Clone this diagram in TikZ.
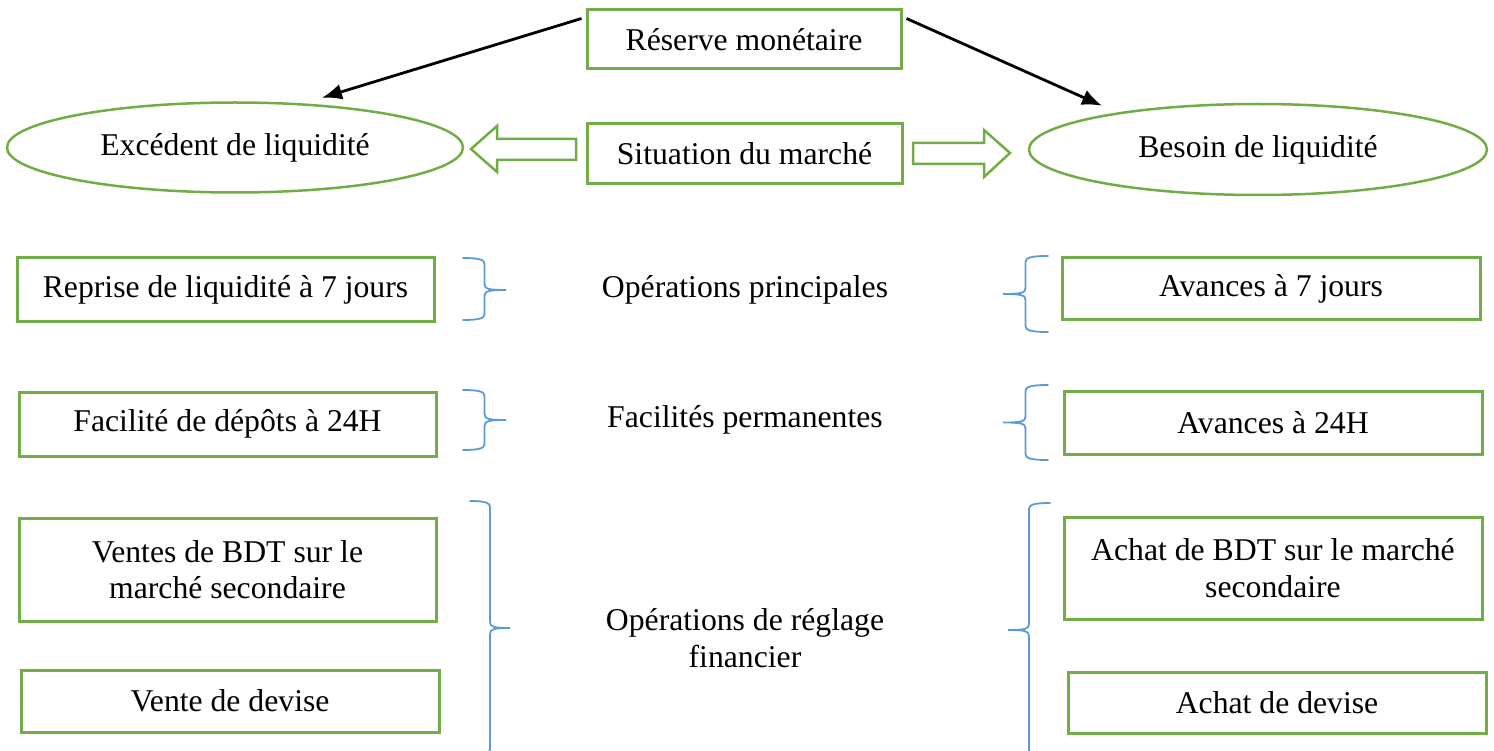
\documentclass[tikz,border=0pt]{standalone}
\usepackage{fontspec}
\setmainfont{Liberation Serif}
\usetikzlibrary{shapes.geometric,arrows.meta,calc}
\definecolor{grn}{HTML}{70AD47}
\definecolor{blu}{HTML}{5B9BD5}
\newcommand{\mybrace}[5]{%
  \draw[bracestyle] (#1,#2) .. controls ({#1+0.8*(#5)},#2) and ({#1+(#5)},{#2+2}) .. ({#1+(#5)},{#2+6})
   -- ({#1+(#5)},{#3-6}) .. controls ({#1+(#5)},{#3-1}) and ({#1+1.2*(#5)},#3) .. ({#1+2*(#5)},#3)
   .. controls ({#1+1.2*(#5)},#3) and ({#1+(#5)},{#3+1}) .. ({#1+(#5)},{#3+6})
   -- ({#1+(#5)},{#4-6}) .. controls ({#1+(#5)},{#4-2}) and ({#1+0.8*(#5)},#4) .. (#1,#4);}
\begin{document}
\begin{tikzpicture}[x=1pt,y=-1pt,
  every node/.style={font=\fontsize{31.7}{36.5}\selectfont, inner sep=0pt},
  box/.style={draw=grn, line width=3pt, rectangle, align=center},
  ell/.style={draw=grn, line width=2.5pt, ellipse},
  arr/.style={draw=black, line width=2.8pt, -{Latex[length=20pt,width=16pt]}},
  hollow/.style={draw=grn, line width=2.5pt, fill=white, line join=miter},
  bracestyle/.style={draw=blu, line width=1.8pt, line cap=round},
  lbl/.style={align=center}]
\useasboundingbox (0,0) rectangle (1494,751);
% top
\node[box, minimum width=314pt, minimum height=59pt] (res) at (744,39.5) {Réserve monétaire};
\node[box, minimum width=315pt, minimum height=60pt] (sit) at (744.5,154) {Situation du marché};
\node[ell, minimum width=456pt, minimum height=90pt] (exc) at (235,147.5) {Excédent de liquidité};
\node[ell, minimum width=458pt, minimum height=91pt] (bes) at (1258,149.5) {Besoin de liquidité};
\draw[arr] ($(res.north west)+(-4,10)$) -- ($(exc.north)+(87,-3.5)$);
\draw[arr] ($(res.north east)+(4,10)$) -- ($(bes.north)+(-156,3)$);
% hollow arrows
\draw[hollow] (576,139) -- (497,139) -- (497,126) -- (471,149) -- (497,172) -- (497,160) -- (576,160) -- cycle;
\draw[hollow] (913,143) -- (984,143) -- (984,130) -- (1010,153) -- (984,177) -- (984,164) -- (913,164) -- cycle;
% row 2
\node[box, minimum width=417pt, minimum height=64pt] (rep) at (225.5,290) {Reprise de liquidité à 7 jours};
\node[lbl] (opp) at (745,290) {Opérations principales};
\node[box, minimum width=418pt, minimum height=62pt] (av7) at (1271,289) {Avances à 7 jours};
\mybrace{463}{258}{290}{320}{21.5}
\mybrace{1048}{256}{294}{332}{-22.5}
% row 3
\node[box, minimum width=417pt, minimum height=64pt] (fac) at (227.5,424) {Facilité de dépôts à 24H};
\node[lbl] (fpe) at (745,420) {Facilités permanentes};
\node[box, minimum width=418pt, minimum height=63pt] (av24) at (1273,422.5) {Avances à 24H};
\mybrace{463}{390}{420}{450}{21.5}
\mybrace{1048}{385}{422.5}{460}{-22.5}
% row 4
\node[box, minimum width=417pt, minimum height=103pt] (ven) at (227.5,569.5) {Ventes de BDT sur le\\marché secondaire};
\node[box, minimum width=418pt, minimum height=62pt] (vdev) at (230,701) {Vente de devise};
\node[lbl] (reg) at (745,638) {Opérations de réglage\\financier};
\node[box, minimum width=418pt, minimum height=102pt] (ach) at (1273,568) {Achat de BDT sur le marché\\secondaire};
\node[box, minimum width=418pt, minimum height=61pt] (adev) at (1277,702.5) {Achat de devise};
\mybrace{470}{501}{628}{755}{20}
\mybrace{1050}{503}{630}{757}{-21}
\end{tikzpicture}
\end{document}
